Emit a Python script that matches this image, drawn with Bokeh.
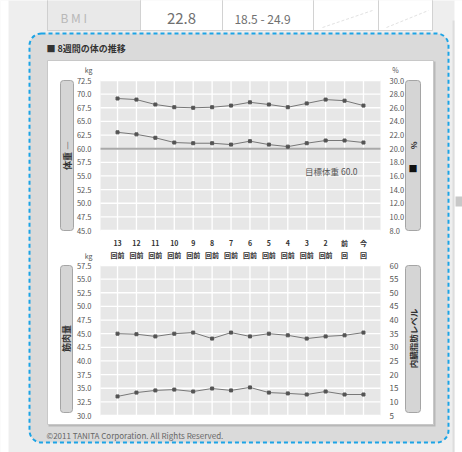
import math
from bokeh.plotting import figure
from bokeh.models import (Range1d, LinearAxis, FixedTicker, BoxAnnotation, NumeralTickFormatter)
from bokeh.embed import file_html
from bokeh.resources import INLINE
from bokeh.core.properties import value

# ---------------- data ----------------
periods = ["13\n回前", "12\n回前", "11\n回前", "10\n回前", "9\n回前", "8\n回前",
           "7\n回前", "6\n回前", "5\n回前", "4\n回前", "3\n回前", "2\n回前",
           "前\n回", "今\n回"]
weight = [69.2, 69.0, 68.1, 67.6, 67.5, 67.6, 67.9, 68.5, 68.1, 67.6, 68.3, 69.0, 68.8, 67.9]
body_fat = [22.4, 22.1, 21.6, 20.9, 20.8, 20.8, 20.6, 21.1, 20.6, 20.3, 20.8, 21.2, 21.2, 20.9]
muscle = [45.0, 44.9, 44.5, 45.0, 45.2, 44.1, 45.2, 44.5, 45.0, 44.7, 44.1, 44.5, 44.7, 45.2]
visceral = [12.0, 13.4, 14.2, 14.5, 13.8, 14.9, 14.2, 15.3, 13.4, 13.1, 12.7, 13.8, 12.7, 12.7]
target_weight = 60.0

weight_ticks = [45.0, 47.5, 50.0, 52.5, 55.0, 57.5, 60.0, 62.5, 65.0, 67.5, 70.0, 72.5]
fat_ticks = [8.0, 10.0, 12.0, 14.0, 16.0, 18.0, 20.0, 22.0, 24.0, 26.0, 28.0, 30.0]
muscle_ticks = [30.0, 32.5, 35.0, 37.5, 40.0, 42.5, 45.0, 47.5, 50.0, 52.5, 55.0, 57.5]
visceral_ticks = [5, 10, 15, 20, 25, 30, 35, 40, 45, 50, 55, 60]

bmi_label = "B M I"
bmi_value = "22.8"
bmi_range = "18.5 - 24.9"
title_text = "■ 8週間の体の推移"
target_text = "目標体重 60.0"
footer_text = "©2011 TANITA Corporation. All Rights Reserved."
upper_left_label = "体重 ―"
lower_left_label = "筋肉量"
lower_right_label = "内臓脂肪レベル"

FONT = "Noto Sans CJK JP"
xs = list(range(len(periods)))

# ---------------- page geometry (pixels of the page) ----------------
PX0, PY0, W, H = 0, 0, 462, 452          # where the canvas sits on the page
CX0, CX1 = 100, 380                      # plot area left / right
UY0, UY1 = 80, 230                       # upper plot area top / bottom
LY0, LY1 = 265, 415                      # lower plot area top / bottom
XLO, XHI = -0.9, 13.9                    # x data shown in the plot areas


def x_range():
    s = (XHI - XLO) / (CX1 - CX0)
    return Range1d(XLO + (PX0 - CX0) * s, XLO + (PX0 + W - CX0) * s)


def y_range(vlo, vhi, ytop, ybot):
    s = (vhi - vlo) / (ybot - ytop)
    return Range1d(vhi - (PY0 + H - ytop) * s, vhi + (ytop - PY0) * s)


p = figure(width=W, height=H, output_backend="svg", toolbar_location=None,
           x_range=x_range(), y_range=Range1d(PY0 + H, PY0),
           x_axis_location=None, y_axis_location=None, min_border=0,
           min_border_left=0, min_border_right=0, min_border_top=0, min_border_bottom=0)
p.title.visible = False
p.grid.visible = False
p.outline_line_color = None
p.background_fill_color = "#eeeeee"
p.border_fill_color = "#eeeeee"
p.extra_x_ranges = {"px": Range1d(PX0, PX0 + W)}
p.extra_y_ranges = {
    "w": y_range(weight_ticks[0], weight_ticks[-1], UY0, UY1),
    "f": y_range(fat_ticks[0], fat_ticks[-1], UY0, UY1),
    "m": y_range(muscle_ticks[0], muscle_ticks[-1], LY0, LY1),
    "v": y_range(visceral_ticks[0], visceral_ticks[-1], LY0, LY1),
}


def box(x0, y0, x1, y1, fill, line=None, dash="solid", lw=1, radius=0):
    p.add_layout(BoxAnnotation(left=x0, right=x1, top=y0, bottom=y1, x_range_name="px",
                               fill_color=fill if fill else "white",
                               fill_alpha=1.0 if fill else 0,
                               line_color=line if line else "black",
                               line_alpha=1.0 if line else 0, line_dash=dash, line_width=lw,
                               border_radius=radius, level="image", editable=False))


def text(x, y, t, size="8px", color="#444444", align="left", angle=0.0, bold=False):
    p.text(x=[x], y=[y], text=[t], x_range_name="px", text_font=value(FONT),
           text_font_size=size, text_color=color, text_align=align,
           text_baseline="middle", angle=angle,
           text_font_style="bold" if bold else "normal")


# ---------------- page decoration ----------------
box(-5, -5, 8, H + 5, "#ffffff")                 # page edges
box(454, -5, W + 5, H + 5, "#ffffff")
box(452, 20, 454, H + 5, "#dddddd")
box(455, 196, W + 5, 206, "#c8c8c8")
# table strip at the top
box(47, -10, 432, 30, "#ffffff", "#cfcfcf")
box(47, -10, 140, 30, "#e9e9e9", "#cfcfcf")
for xa_, xb_ in [(140, 222), (222, 313), (313, 378), (378, 432)]:
    box(xa_, -10, xb_, 30, None, "#d2d2d2")
p.segment(x0=[322, 386], y0=[27, 27], x1=[372, 428], y1=[10, 10], x_range_name="px",
          line_color="#e2e2e2", line_width=1, line_dash="3 2")
text(60, 17, bmi_label, "12px", "#b8b8b8")
text(181, 18, bmi_value, "15px", "#707070", "center")
text(262, 18, bmi_range, "12px", "#707070", "center")
# dashed container, white panel
box(29, 33, 448, 442, "#dadada", "#1ca4e6", "4 3", 2, 12)
box(48, 61, 435, 426, "#b8b8b8")
box(47, 60, 433, 424, "#ffffff", "#c8c8c8", "solid", 1)
text(46, 48, title_text, "9px", "#333333", bold=True)
text(46, 435, footer_text, "8px", "#666666")
# label boxes beside the plots
for (bx0, by0, bx1, by1) in [(60, UY0, 73, UY1), (405, UY0, 420, UY1),
                             (60, LY0, 72, LY1 - 3), (405, LY0, 420, LY1 - 3)]:
    box(bx0, by0, bx1, by1, "#d5d5d5", "#a5a5a5", "solid", 1, 3)
text(67, 155, upper_left_label, "9px", "#333333", "center", math.pi / 2, True)
text(412.5, 145, "%", "8px", "#333333", "center", math.pi / 2, True)
text(412.5, 168, "■", "9px", "#111111", "center")
text(66, 338, lower_left_label, "9px", "#333333", "center", math.pi / 2, True)
text(412.5, 338, lower_right_label, "8.5px", "#333333", "center", math.pi / 2, True)
text(92, 69, "kg", "7px", "#555555", "right")
text(395, 69, "%", "7px", "#555555", "center")
text(92, 255, "kg", "7px", "#555555", "right")


# ---------------- the two plot areas ----------------
def plot_area(rname, ticks):
    p.add_layout(BoxAnnotation(left=XLO, right=XHI, bottom=ticks[0], top=ticks[-1],
                               y_range_name=rname, fill_color="#e7e7e7", fill_alpha=1,
                               line_alpha=0, level="image", editable=False))
    n, m = len(xs), len(ticks)
    p.segment(x0=xs, x1=xs, y0=[ticks[0]] * n, y1=[ticks[-1]] * n, y_range_name=rname,
              line_color="white", line_width=1.3)
    p.segment(x0=[XLO] * m, x1=[XHI] * m, y0=ticks, y1=ticks, y_range_name=rname,
              line_color="white", line_width=1.3)


def y_axis(rname, ticks, fmt, side, size="7.5px"):
    ax = LinearAxis(y_range_name=rname, fixed_location=XLO if side == "left" else XHI,
                    ticker=FixedTicker(ticks=ticks), formatter=NumeralTickFormatter(format=fmt))
    ax.axis_line_color = None
    ax.major_tick_line_color = None
    ax.minor_tick_line_color = None
    ax.major_label_text_font = FONT
    ax.major_label_text_font_size = size
    ax.major_label_text_color = "#555555"
    ax.major_label_standoff = 3
    p.add_layout(ax, side)


plot_area("w", weight_ticks)
plot_area("m", muscle_ticks)
y_axis("w", weight_ticks, "0.0", "left")
y_axis("f", fat_ticks, "0.0", "right")
y_axis("m", muscle_ticks, "0.0", "left")
y_axis("v", visceral_ticks, "0", "right", "8px")

xa = LinearAxis(y_range_name="m", fixed_location=muscle_ticks[-1],
                ticker=FixedTicker(ticks=xs))
xa.major_label_overrides = {i: s for i, s in enumerate(periods)}
xa.axis_line_color = None
xa.major_tick_line_color = None
xa.minor_tick_line_color = None
xa.major_label_text_font = FONT
xa.major_label_text_font_size = "7px"
xa.major_label_text_font_style = "bold"
xa.major_label_text_color = "#333333"
xa.major_label_standoff = 0
p.add_layout(xa, "above")

# target weight line and its note
p.segment(x0=[XLO], x1=[XHI], y0=[target_weight], y1=[target_weight], y_range_name="w",
          line_color="#a9a9a9", line_width=2)
p.text(x=[11.3], y=[target_weight - 4.0], text=[target_text], y_range_name="w",
       text_font=value(FONT), text_font_size="8.5px", text_color="#555555",
       text_align="center", text_baseline="middle")

# series
for vals, rname in [(weight, "w"), (body_fat, "f"), (muscle, "m"), (visceral, "v")]:
    p.line(xs, vals, y_range_name=rname, line_color="#777777", line_width=1)
    p.scatter(xs, vals, y_range_name=rname, marker="square", size=3, color="#555555")

open("out.html", "w").write(file_html(p, INLINE))
